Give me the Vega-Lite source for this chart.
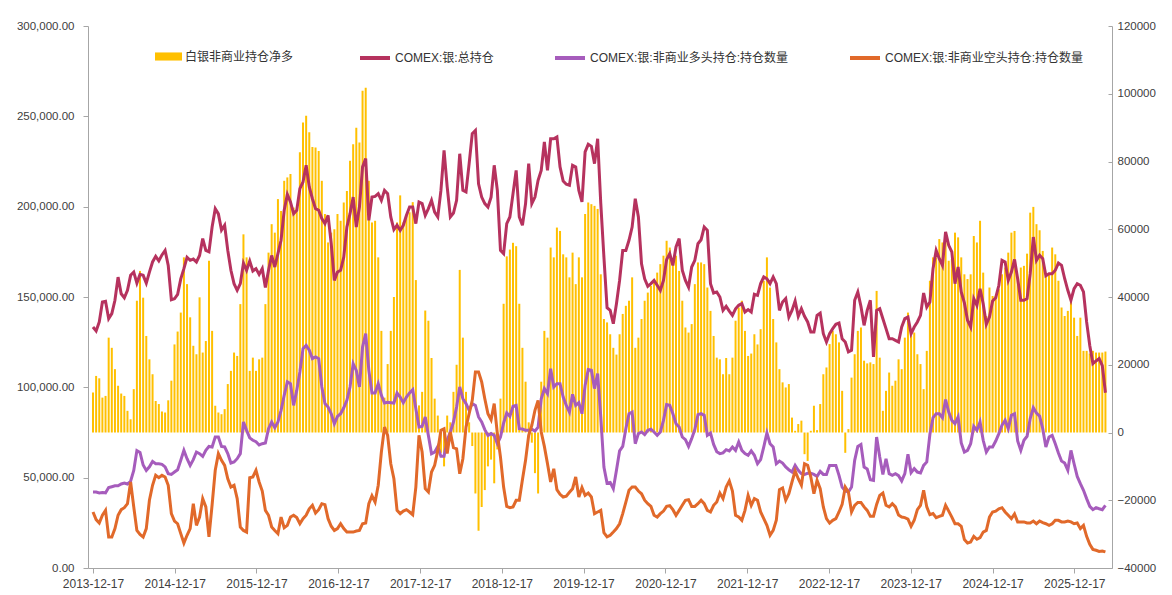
{
"$schema": "https://vega.github.io/schema/vega-lite/v6.json",
"width": 1024, "height": 542,
"autosize": {"type": "none"},
"padding": {"left": 88, "top": 26, "right": 60, "bottom": 27},
"background": "white",
"config": {"view": {"stroke": null}, "font": "Liberation Sans",
  "axis": {"domainColor": "#A6A6A6", "tickColor": "#A6A6A6", "labelColor": "#404040", "grid": false, "labelFont": "Liberation Sans", "title": null}},
"data": {"values": [
{"d":"2013-12-17","n":11800,"t":133400,"l":42000,"s":31000},
{"d":"2013-12-31","n":16700,"t":131200,"l":42000,"s":26800},
{"d":"2014-01-14","n":16000,"t":136200,"l":41500,"s":24900},
{"d":"2014-01-28","n":10300,"t":147200,"l":41800,"s":29200},
{"d":"2014-02-11","n":10800,"t":147600,"l":41600,"s":31900},
{"d":"2014-02-25","n":28000,"t":138000,"l":44500,"s":17200},
{"d":"2014-03-11","n":25000,"t":140800,"l":45000,"s":17200},
{"d":"2014-03-25","n":18700,"t":148200,"l":45500,"s":21800},
{"d":"2014-04-08","n":13800,"t":161000,"l":45500,"s":29200},
{"d":"2014-04-22","n":11500,"t":151800,"l":46500,"s":32300},
{"d":"2014-05-06","n":10800,"t":149600,"l":47000,"s":33400},
{"d":"2014-05-20","n":6400,"t":153700,"l":46500,"s":35600},
{"d":"2014-06-03","n":3900,"t":162000,"l":48000,"s":47600},
{"d":"2014-06-17","n":12800,"t":163800,"l":54000,"s":33800},
{"d":"2014-07-01","n":38900,"t":157700,"l":65000,"s":20800},
{"d":"2014-07-15","n":47700,"t":162500,"l":64000,"s":18600},
{"d":"2014-07-29","n":39800,"t":162000,"l":57000,"s":17200},
{"d":"2014-08-12","n":28500,"t":157700,"l":54000,"s":21800},
{"d":"2014-08-26","n":21600,"t":163800,"l":56000,"s":37500},
{"d":"2014-09-09","n":17200,"t":169400,"l":59000,"s":45800},
{"d":"2014-09-23","n":9300,"t":172500,"l":57700,"s":51300},
{"d":"2014-10-07","n":8400,"t":170000,"l":57700,"s":50000},
{"d":"2014-10-21","n":6200,"t":173300,"l":57400,"s":51300},
{"d":"2014-11-04","n":5900,"t":175800,"l":56000,"s":50400},
{"d":"2014-11-18","n":9500,"t":167500,"l":52200,"s":45800},
{"d":"2014-12-02","n":15300,"t":148500,"l":51800,"s":30100},
{"d":"2014-12-16","n":26000,"t":149000,"l":53100,"s":26000},
{"d":"2014-12-30","n":29800,"t":151500,"l":54400,"s":24500},
{"d":"2015-01-13","n":35400,"t":160000,"l":59600,"s":19000},
{"d":"2015-01-27","n":51700,"t":165700,"l":65100,"s":13800},
{"d":"2015-02-10","n":43800,"t":172000,"l":60500,"s":18100},
{"d":"2015-02-24","n":34000,"t":170300,"l":56800,"s":21800},
{"d":"2015-03-10","n":25600,"t":171000,"l":60000,"s":35600},
{"d":"2015-03-24","n":23100,"t":169400,"l":64200,"s":23600},
{"d":"2015-04-07","n":39900,"t":173000,"l":63300,"s":28200},
{"d":"2015-04-21","n":23600,"t":182300,"l":61800,"s":38400},
{"d":"2015-05-05","n":27000,"t":175800,"l":65100,"s":33800},
{"d":"2015-05-19","n":50700,"t":175000,"l":67300,"s":17200},
{"d":"2015-06-02","n":30000,"t":188700,"l":67000,"s":35000},
{"d":"2015-06-16","n":7900,"t":198900,"l":72500,"s":54100},
{"d":"2015-06-30","n":5900,"t":196000,"l":72500,"s":63300},
{"d":"2015-07-14","n":5400,"t":187000,"l":67300,"s":59600},
{"d":"2015-07-28","n":6900,"t":189700,"l":67000,"s":56800},
{"d":"2015-08-11","n":14300,"t":175800,"l":63300,"s":49400},
{"d":"2015-08-25","n":18200,"t":164800,"l":58100,"s":44800},
{"d":"2015-09-08","n":23600,"t":157400,"l":58700,"s":45800},
{"d":"2015-09-22","n":22600,"t":153700,"l":60500,"s":38400},
{"d":"2015-10-06","n":37900,"t":157400,"l":63300,"s":22700},
{"d":"2015-10-20","n":58500,"t":168800,"l":80800,"s":20800},
{"d":"2015-11-03","n":51700,"t":164800,"l":76200,"s":19900},
{"d":"2015-11-17","n":18200,"t":169900,"l":72000,"s":50000},
{"d":"2015-12-01","n":22100,"t":164400,"l":70700,"s":50400},
{"d":"2015-12-15","n":18200,"t":165700,"l":69900,"s":54100},
{"d":"2015-12-29","n":21600,"t":162500,"l":68100,"s":47600},
{"d":"2016-01-12","n":22100,"t":165700,"l":68800,"s":42600},
{"d":"2016-01-26","n":37900,"t":155200,"l":69200,"s":31900},
{"d":"2016-02-09","n":53100,"t":164800,"l":77100,"s":29200},
{"d":"2016-02-23","n":61500,"t":173000,"l":80800,"s":22700},
{"d":"2016-03-08","n":59000,"t":166600,"l":77700,"s":20800},
{"d":"2016-03-22","n":68900,"t":174000,"l":80800,"s":19000},
{"d":"2016-04-05","n":65400,"t":181400,"l":87300,"s":28200},
{"d":"2016-04-19","n":74300,"t":198000,"l":95600,"s":22300},
{"d":"2016-05-03","n":75300,"t":206800,"l":103000,"s":23600},
{"d":"2016-05-17","n":76300,"t":202600,"l":102000,"s":28200},
{"d":"2016-05-31","n":66400,"t":196100,"l":90000,"s":29200},
{"d":"2016-06-14","n":65400,"t":198000,"l":98300,"s":27900},
{"d":"2016-06-28","n":82700,"t":210000,"l":108500,"s":24500},
{"d":"2016-07-12","n":91500,"t":213700,"l":121400,"s":27300},
{"d":"2016-07-26","n":93500,"t":222900,"l":123200,"s":29200},
{"d":"2016-08-09","n":88600,"t":210900,"l":120500,"s":32800},
{"d":"2016-08-23","n":84300,"t":204400,"l":115900,"s":34700},
{"d":"2016-09-06","n":84100,"t":198900,"l":116800,"s":30400},
{"d":"2016-09-20","n":83100,"t":198000,"l":115900,"s":32300},
{"d":"2016-10-04","n":74300,"t":193400,"l":100200,"s":35600},
{"d":"2016-10-18","n":64500,"t":190600,"l":91000,"s":35100},
{"d":"2016-11-01","n":56100,"t":195200,"l":89100,"s":27300},
{"d":"2016-11-15","n":59000,"t":179500,"l":85400,"s":23100},
{"d":"2016-11-29","n":60000,"t":159200,"l":79900,"s":20800},
{"d":"2016-12-13","n":64500,"t":163800,"l":83900,"s":21800},
{"d":"2016-12-27","n":62500,"t":164800,"l":85400,"s":24500},
{"d":"2017-01-10","n":67900,"t":172100,"l":88700,"s":21800},
{"d":"2017-01-24","n":71300,"t":188700,"l":92800,"s":19900},
{"d":"2017-02-07","n":80200,"t":196100,"l":100200,"s":19900},
{"d":"2017-02-21","n":85100,"t":205300,"l":113100,"s":19900},
{"d":"2017-03-07","n":90000,"t":188700,"l":109400,"s":20500},
{"d":"2017-03-21","n":85600,"t":199800,"l":100200,"s":20800},
{"d":"2017-04-04","n":100900,"t":222000,"l":122300,"s":24500},
{"d":"2017-04-18","n":101800,"t":226600,"l":129700,"s":24900},
{"d":"2017-05-02","n":74300,"t":192400,"l":109400,"s":35600},
{"d":"2017-05-16","n":62000,"t":205300,"l":96900,"s":40000},
{"d":"2017-05-30","n":62500,"t":205700,"l":96900,"s":36500},
{"d":"2017-06-13","n":51700,"t":207200,"l":102000,"s":45800},
{"d":"2017-06-27","n":30000,"t":203500,"l":95600,"s":64200},
{"d":"2017-07-11","n":10300,"t":209000,"l":91300,"s":78000},
{"d":"2017-07-25","n":20200,"t":207200,"l":91700,"s":73400},
{"d":"2017-08-08","n":30000,"t":194300,"l":91500,"s":57700},
{"d":"2017-08-22","n":40000,"t":187300,"l":91300,"s":49400},
{"d":"2017-09-05","n":62000,"t":189700,"l":96900,"s":31900},
{"d":"2017-09-19","n":70000,"t":186900,"l":94600,"s":30100},
{"d":"2017-10-03","n":62000,"t":189700,"l":91500,"s":31500},
{"d":"2017-10-17","n":64000,"t":195200,"l":94600,"s":32300},
{"d":"2017-10-31","n":65000,"t":199800,"l":96900,"s":31000},
{"d":"2017-11-14","n":68000,"t":199800,"l":98700,"s":29500},
{"d":"2017-11-28","n":45000,"t":190600,"l":88200,"s":44800},
{"d":"2017-12-12","n":8000,"t":202600,"l":78100,"s":73400},
{"d":"2017-12-26","n":12000,"t":201700,"l":78400,"s":64200},
{"d":"2018-01-09","n":36000,"t":195200,"l":83600,"s":43900},
{"d":"2018-01-23","n":33000,"t":198900,"l":73400,"s":42100},
{"d":"2018-02-06","n":22000,"t":203500,"l":63300,"s":53100},
{"d":"2018-02-20","n":10000,"t":197000,"l":64200,"s":56800},
{"d":"2018-03-06","n":5000,"t":194300,"l":67300,"s":65100},
{"d":"2018-03-20","n":-6000,"t":209000,"l":61800,"s":76200},
{"d":"2018-04-03","n":-10000,"t":231200,"l":61800,"s":77100},
{"d":"2018-04-17","n":5000,"t":210900,"l":70700,"s":63300},
{"d":"2018-05-01","n":3000,"t":194300,"l":75300,"s":75300},
{"d":"2018-05-15","n":12000,"t":196500,"l":80800,"s":66600},
{"d":"2018-05-29","n":20000,"t":203500,"l":89100,"s":66000},
{"d":"2018-06-12","n":48000,"t":229300,"l":100200,"s":52200},
{"d":"2018-06-26","n":28000,"t":209000,"l":93700,"s":60500},
{"d":"2018-07-10","n":12000,"t":208100,"l":91000,"s":78000},
{"d":"2018-07-24","n":3000,"t":223800,"l":87300,"s":85400},
{"d":"2018-08-07","n":-4000,"t":240400,"l":91000,"s":92800},
{"d":"2018-08-21","n":-18000,"t":242200,"l":90000,"s":108500},
{"d":"2018-09-04","n":-29000,"t":212700,"l":83600,"s":108500},
{"d":"2018-09-18","n":-22000,"t":205300,"l":80800,"s":103000},
{"d":"2018-10-02","n":-17000,"t":201700,"l":76600,"s":93700},
{"d":"2018-10-16","n":-10000,"t":199800,"l":73400,"s":85400},
{"d":"2018-10-30","n":-8000,"t":205300,"l":74400,"s":82100},
{"d":"2018-11-13","n":-15000,"t":222900,"l":73400,"s":91000},
{"d":"2018-11-27","n":-5000,"t":209000,"l":68800,"s":74400},
{"d":"2018-12-11","n":10000,"t":175800,"l":72500,"s":61400},
{"d":"2018-12-25","n":38000,"t":174000,"l":80300,"s":44800},
{"d":"2019-01-08","n":52000,"t":190600,"l":85800,"s":34100},
{"d":"2019-01-22","n":54000,"t":194300,"l":83900,"s":33400},
{"d":"2019-02-05","n":56000,"t":207200,"l":89500,"s":33800},
{"d":"2019-02-19","n":55000,"t":220100,"l":90000,"s":37500},
{"d":"2019-03-05","n":38000,"t":194300,"l":77100,"s":37500},
{"d":"2019-03-19","n":25000,"t":189700,"l":76900,"s":48900},
{"d":"2019-04-02","n":15000,"t":201700,"l":76200,"s":59600},
{"d":"2019-04-16","n":3000,"t":223800,"l":76200,"s":73400},
{"d":"2019-04-30","n":-3000,"t":201700,"l":76800,"s":79000},
{"d":"2019-05-14","n":-12000,"t":205300,"l":75800,"s":87300},
{"d":"2019-05-28","n":-18000,"t":214600,"l":78000,"s":92800},
{"d":"2019-06-11","n":15000,"t":220100,"l":93700,"s":75300},
{"d":"2019-06-25","n":30000,"t":235800,"l":99300,"s":67300},
{"d":"2019-07-09","n":28000,"t":220100,"l":96500,"s":57700},
{"d":"2019-07-23","n":54600,"t":237600,"l":110300,"s":47600},
{"d":"2019-08-06","n":51700,"t":237600,"l":100200,"s":54900},
{"d":"2019-08-20","n":60500,"t":238600,"l":102000,"s":43400},
{"d":"2019-09-03","n":59500,"t":222000,"l":102000,"s":40800},
{"d":"2019-09-17","n":52600,"t":214200,"l":94600,"s":39300},
{"d":"2019-10-01","n":51700,"t":212400,"l":90000,"s":39700},
{"d":"2019-10-15","n":45800,"t":211800,"l":86300,"s":41900},
{"d":"2019-10-29","n":53100,"t":222900,"l":96100,"s":43900},
{"d":"2019-11-12","n":43800,"t":222000,"l":90000,"s":50400},
{"d":"2019-11-26","n":51700,"t":209000,"l":91500,"s":39300},
{"d":"2019-12-10","n":45800,"t":202600,"l":85400,"s":44500},
{"d":"2019-12-24","n":64500,"t":230300,"l":101100,"s":40200},
{"d":"2020-01-07","n":67900,"t":234500,"l":109800,"s":41500},
{"d":"2020-01-21","n":67400,"t":233400,"l":109400,"s":39300},
{"d":"2020-02-04","n":66900,"t":223800,"l":99300,"s":30100},
{"d":"2020-02-18","n":66000,"t":237600,"l":107600,"s":31000},
{"d":"2020-03-03","n":46700,"t":201700,"l":83600,"s":31900},
{"d":"2020-03-17","n":33500,"t":172100,"l":55900,"s":19600},
{"d":"2020-03-31","n":32500,"t":144100,"l":47000,"s":17200},
{"d":"2020-04-14","n":29000,"t":142600,"l":47400,"s":18100},
{"d":"2020-04-28","n":25000,"t":135200,"l":43900,"s":19900},
{"d":"2020-05-12","n":23000,"t":146300,"l":54100,"s":21800},
{"d":"2020-05-26","n":29000,"t":159200,"l":64800,"s":24500},
{"d":"2020-06-09","n":35000,"t":175800,"l":67300,"s":30100},
{"d":"2020-06-23","n":37400,"t":175800,"l":77100,"s":36500},
{"d":"2020-07-07","n":38900,"t":181400,"l":85400,"s":43000},
{"d":"2020-07-21","n":45800,"t":188700,"l":86300,"s":44800},
{"d":"2020-08-04","n":25000,"t":204400,"l":68800,"s":44800},
{"d":"2020-08-18","n":28000,"t":194300,"l":74400,"s":42600},
{"d":"2020-09-01","n":33500,"t":168400,"l":75300,"s":41100},
{"d":"2020-09-15","n":38900,"t":160100,"l":73800,"s":37500},
{"d":"2020-09-29","n":41300,"t":155900,"l":76200,"s":35600},
{"d":"2020-10-13","n":43300,"t":157400,"l":76800,"s":34100},
{"d":"2020-10-27","n":45000,"t":159200,"l":75300,"s":29200},
{"d":"2020-11-10","n":47200,"t":156500,"l":73400,"s":28200},
{"d":"2020-11-24","n":49700,"t":153700,"l":75300,"s":30100},
{"d":"2020-12-08","n":52200,"t":159200,"l":81700,"s":31500},
{"d":"2020-12-22","n":56600,"t":170700,"l":90400,"s":34100},
{"d":"2021-01-05","n":54600,"t":174000,"l":90000,"s":34500},
{"d":"2021-01-19","n":50200,"t":167500,"l":85400,"s":32300},
{"d":"2021-02-02","n":52200,"t":177700,"l":79900,"s":29200},
{"d":"2021-02-16","n":47700,"t":182300,"l":78000,"s":31900},
{"d":"2021-03-02","n":38900,"t":164800,"l":72500,"s":34700},
{"d":"2021-03-16","n":31000,"t":159200,"l":71000,"s":37500},
{"d":"2021-03-30","n":29500,"t":155500,"l":67300,"s":37800},
{"d":"2021-04-13","n":32000,"t":166600,"l":71600,"s":34100},
{"d":"2021-04-27","n":43800,"t":170300,"l":76600,"s":34100},
{"d":"2021-05-11","n":50200,"t":179500,"l":84900,"s":35600},
{"d":"2021-05-25","n":50200,"t":181700,"l":85400,"s":37500},
{"d":"2021-06-08","n":49700,"t":188700,"l":84500,"s":35600},
{"d":"2021-06-22","n":42800,"t":186900,"l":73400,"s":31900},
{"d":"2021-07-06","n":35900,"t":157400,"l":74700,"s":31000},
{"d":"2021-07-20","n":28500,"t":152200,"l":68400,"s":34700},
{"d":"2021-08-03","n":22100,"t":152800,"l":64400,"s":36500},
{"d":"2021-08-17","n":21600,"t":150000,"l":63300,"s":41500},
{"d":"2021-08-31","n":17200,"t":142600,"l":63700,"s":38400},
{"d":"2021-09-14","n":22000,"t":144800,"l":65500,"s":44800},
{"d":"2021-09-28","n":17200,"t":142200,"l":64800,"s":48200},
{"d":"2021-10-12","n":22100,"t":139800,"l":67000,"s":42600},
{"d":"2021-10-26","n":33000,"t":143500,"l":65100,"s":29200},
{"d":"2021-11-09","n":36900,"t":145400,"l":69700,"s":28200},
{"d":"2021-11-23","n":38900,"t":146300,"l":65100,"s":26400},
{"d":"2021-12-07","n":30000,"t":141700,"l":63300,"s":31900},
{"d":"2021-12-21","n":22600,"t":143000,"l":62400,"s":40200},
{"d":"2022-01-04","n":23300,"t":141700,"l":64800,"s":34700},
{"d":"2022-01-18","n":29000,"t":151500,"l":62400,"s":38400},
{"d":"2022-02-01","n":26000,"t":150900,"l":57700,"s":37500},
{"d":"2022-02-15","n":30500,"t":157400,"l":60000,"s":31000},
{"d":"2022-03-01","n":44800,"t":161100,"l":67000,"s":27300},
{"d":"2022-03-15","n":51700,"t":160100,"l":74700,"s":23600},
{"d":"2022-03-29","n":42800,"t":157400,"l":68800,"s":18100},
{"d":"2022-04-12","n":33500,"t":161100,"l":67000,"s":20800},
{"d":"2022-04-26","n":26600,"t":157400,"l":57700,"s":26400},
{"d":"2022-05-10","n":18700,"t":142600,"l":59200,"s":43400},
{"d":"2022-05-24","n":14800,"t":147200,"l":58100,"s":44300},
{"d":"2022-06-07","n":13300,"t":149100,"l":55900,"s":37500},
{"d":"2022-06-21","n":14300,"t":138900,"l":54400,"s":41100},
{"d":"2022-07-05","n":4400,"t":142600,"l":53100,"s":47600},
{"d":"2022-07-19","n":500,"t":147800,"l":56800,"s":53700},
{"d":"2022-08-02","n":2500,"t":139300,"l":54100,"s":49400},
{"d":"2022-08-16","n":3500,"t":143500,"l":52200,"s":45800},
{"d":"2022-08-30","n":-6400,"t":139300,"l":51800,"s":57700},
{"d":"2022-09-13","n":-8400,"t":136200,"l":52400,"s":56800},
{"d":"2022-09-27","n":500,"t":130600,"l":52400,"s":50400},
{"d":"2022-10-11","n":7900,"t":130600,"l":51800,"s":41100},
{"d":"2022-10-25","n":700,"t":139800,"l":50700,"s":48500},
{"d":"2022-11-08","n":8400,"t":141100,"l":53500,"s":43900},
{"d":"2022-11-22","n":17200,"t":129700,"l":51800,"s":33800},
{"d":"2022-12-06","n":19200,"t":125100,"l":51800,"s":27300},
{"d":"2022-12-20","n":26100,"t":129700,"l":56800,"s":24900},
{"d":"2023-01-03","n":30000,"t":132500,"l":56800,"s":26400},
{"d":"2023-01-17","n":29000,"t":134900,"l":56800,"s":27300},
{"d":"2023-01-31","n":26600,"t":135600,"l":51300,"s":31000},
{"d":"2023-02-14","n":12300,"t":126900,"l":44800,"s":35200},
{"d":"2023-02-28","n":-6000,"t":125100,"l":42600,"s":44800},
{"d":"2023-03-14","n":1000,"t":119600,"l":42100,"s":42100},
{"d":"2023-03-28","n":16200,"t":120500,"l":44800,"s":31000},
{"d":"2023-04-11","n":23100,"t":148200,"l":59600,"s":34700},
{"d":"2023-04-25","n":30000,"t":152800,"l":67300,"s":36300},
{"d":"2023-05-09","n":31000,"t":144800,"l":68400,"s":36300},
{"d":"2023-05-23","n":21200,"t":134300,"l":55900,"s":33800},
{"d":"2023-06-06","n":20400,"t":142600,"l":54800,"s":31900},
{"d":"2023-06-20","n":20700,"t":148200,"l":48900,"s":28600},
{"d":"2023-07-04","n":20200,"t":116800,"l":48500,"s":28600},
{"d":"2023-07-18","n":41800,"t":142600,"l":72500,"s":35200},
{"d":"2023-08-01","n":22100,"t":143500,"l":61400,"s":40200},
{"d":"2023-08-15","n":6400,"t":138000,"l":51800,"s":41500},
{"d":"2023-08-29","n":12300,"t":132500,"l":60500,"s":34700},
{"d":"2023-09-12","n":17700,"t":126900,"l":52200,"s":33800},
{"d":"2023-09-26","n":13800,"t":126900,"l":51300,"s":35600},
{"d":"2023-10-10","n":15300,"t":126000,"l":52200,"s":33800},
{"d":"2023-10-24","n":21600,"t":125100,"l":51100,"s":29300},
{"d":"2023-11-07","n":18700,"t":133400,"l":48200,"s":28200},
{"d":"2023-11-21","n":28000,"t":138000,"l":52200,"s":27900},
{"d":"2023-12-05","n":35400,"t":138900,"l":62900,"s":27100},
{"d":"2023-12-19","n":28500,"t":129700,"l":52800,"s":23100},
{"d":"2024-01-02","n":29500,"t":133400,"l":55000,"s":26400},
{"d":"2024-01-16","n":23100,"t":136200,"l":53100,"s":32300},
{"d":"2024-01-30","n":20200,"t":139800,"l":52600,"s":34700},
{"d":"2024-02-13","n":12800,"t":152200,"l":56800,"s":43000},
{"d":"2024-02-27","n":24100,"t":144400,"l":58700,"s":33800},
{"d":"2024-03-12","n":44800,"t":147200,"l":74000,"s":29500},
{"d":"2024-03-26","n":51700,"t":165700,"l":83200,"s":30100},
{"d":"2024-04-09","n":51700,"t":175800,"l":85400,"s":27900},
{"d":"2024-04-23","n":57100,"t":171200,"l":85400,"s":28600},
{"d":"2024-05-07","n":56100,"t":167500,"l":83200,"s":29200},
{"d":"2024-05-21","n":58500,"t":186000,"l":93200,"s":34700},
{"d":"2024-06-04","n":50700,"t":178600,"l":86300,"s":31500},
{"d":"2024-06-18","n":51200,"t":174900,"l":81700,"s":28200},
{"d":"2024-07-02","n":59000,"t":157400,"l":79900,"s":24500},
{"d":"2024-07-16","n":57600,"t":166600,"l":83600,"s":24500},
{"d":"2024-07-30","n":51700,"t":152800,"l":69200,"s":23100},
{"d":"2024-08-13","n":46700,"t":146700,"l":64200,"s":15700},
{"d":"2024-08-27","n":45300,"t":137100,"l":65100,"s":13800},
{"d":"2024-09-10","n":46700,"t":133400,"l":68800,"s":14400},
{"d":"2024-09-24","n":58000,"t":149100,"l":78400,"s":17500},
{"d":"2024-10-08","n":56100,"t":145400,"l":76200,"s":15900},
{"d":"2024-10-22","n":62500,"t":154600,"l":80800,"s":16800},
{"d":"2024-11-05","n":47200,"t":146300,"l":70700,"s":19900},
{"d":"2024-11-19","n":34400,"t":134900,"l":64200,"s":20800},
{"d":"2024-12-03","n":42800,"t":138900,"l":67000,"s":28200},
{"d":"2024-12-17","n":40300,"t":147800,"l":67000,"s":31000},
{"d":"2024-12-31","n":40300,"t":149600,"l":70300,"s":31500},
{"d":"2025-01-14","n":42300,"t":156500,"l":74400,"s":32800},
{"d":"2025-01-28","n":46700,"t":170300,"l":79000,"s":33400},
{"d":"2025-02-11","n":48700,"t":169400,"l":81700,"s":31000},
{"d":"2025-02-25","n":53100,"t":159200,"l":77100,"s":29200},
{"d":"2025-03-11","n":59000,"t":163800,"l":84500,"s":27300},
{"d":"2025-03-25","n":59500,"t":170800,"l":85400,"s":29900},
{"d":"2025-04-08","n":45800,"t":160100,"l":70300,"s":25500},
{"d":"2025-04-22","n":48700,"t":148200,"l":65100,"s":25500},
{"d":"2025-05-06","n":49200,"t":148200,"l":70700,"s":25500},
{"d":"2025-05-20","n":52800,"t":149100,"l":72900,"s":24900},
{"d":"2025-06-03","n":64900,"t":162900,"l":82700,"s":24900},
{"d":"2025-06-17","n":66600,"t":183200,"l":88700,"s":26000},
{"d":"2025-07-01","n":61500,"t":170300,"l":85800,"s":24500},
{"d":"2025-07-15","n":59700,"t":173100,"l":84100,"s":26000},
{"d":"2025-07-29","n":53600,"t":171200,"l":77100,"s":25100},
{"d":"2025-08-12","n":46000,"t":161800,"l":67000,"s":24500},
{"d":"2025-08-26","n":46700,"t":162900,"l":72500,"s":23600},
{"d":"2025-09-09","n":54600,"t":162900,"l":73400,"s":24500},
{"d":"2025-09-23","n":52600,"t":164800,"l":68800,"s":26400},
{"d":"2025-10-07","n":44800,"t":168800,"l":63700,"s":26400},
{"d":"2025-10-21","n":36900,"t":167500,"l":59200,"s":25500},
{"d":"2025-11-04","n":34400,"t":160100,"l":58100,"s":25500},
{"d":"2025-11-18","n":35900,"t":153700,"l":54100,"s":26000},
{"d":"2025-12-02","n":39900,"t":148200,"l":65100,"s":25500},
{"d":"2025-12-16","n":33900,"t":154600,"l":57700,"s":24500},
{"d":"2025-12-30","n":28500,"t":157400,"l":50700,"s":24900},
{"d":"2026-01-13","n":33900,"t":156500,"l":46700,"s":21800},
{"d":"2026-01-27","n":24100,"t":152800,"l":43000,"s":23600},
{"d":"2026-02-10","n":24100,"t":136200,"l":38400,"s":17500},
{"d":"2026-02-24","n":23300,"t":123200,"l":34100,"s":13100},
{"d":"2026-03-10","n":24100,"t":113100,"l":32300,"s":10300},
{"d":"2026-03-24","n":23600,"t":114600,"l":33400,"s":9800},
{"d":"2026-04-07","n":23600,"t":115900,"l":32800,"s":9200},
{"d":"2026-04-21","n":23600,"t":112000,"l":32300,"s":9400},
{"d":"2026-05-05","n":23900,"t":97000,"l":34700,"s":8900}
]},
"encoding": {
  "x": {"field": "d", "type": "temporal",
    "scale": {"type": "utc", "domain": [{"year": 2013, "month": 12, "date": 17, "utc": true}, {"year": 2026, "month": 5, "date": 12, "utc": true}]},
    "axis": {"values": [
      {"year": 2013, "month": 12, "date": 17, "utc": true}, {"year": 2014, "month": 12, "date": 17, "utc": true},
      {"year": 2015, "month": 12, "date": 17, "utc": true}, {"year": 2016, "month": 12, "date": 17, "utc": true},
      {"year": 2017, "month": 12, "date": 17, "utc": true}, {"year": 2018, "month": 12, "date": 17, "utc": true},
      {"year": 2019, "month": 12, "date": 17, "utc": true}, {"year": 2020, "month": 12, "date": 17, "utc": true},
      {"year": 2021, "month": 12, "date": 17, "utc": true}, {"year": 2022, "month": 12, "date": 17, "utc": true},
      {"year": 2023, "month": 12, "date": 17, "utc": true}, {"year": 2024, "month": 12, "date": 17, "utc": true},
      {"year": 2025, "month": 12, "date": 17, "utc": true}],
      "format": "%Y-%m-%d", "labelFontSize": 12, "tickSize": 5, "labelPadding": 5, "labelAngle": 0, "labelFlush": false, "labelOverlap": false}}
},
"layer": [
  {"mark": {"type": "bar", "size": 2},
   "encoding": {
     "y": {"field": "n", "type": "quantitative",
       "scale": {"domain": [-40000, 120000], "nice": false},
       "axis": {"orient": "right", "values": [-40000, -20000, 0, 20000, 40000, 60000, 80000, 100000, 120000], "format": "d", "labelFontSize": 11.5, "tickSize": -4, "labelPadding": 9}},
     "fill": {"datum": "白银非商业持仓净多",
       "scale": {"domain": ["白银非商业持仓净多"], "range": ["#FFC000"]},
       "legend": {"orient": "none", "legendX": 67, "legendY": 17, "title": null, "padding": 0,
         "symbolType": "M-1,-0.3H1V0.3H-1Z", "symbolSize": 729, "symbolStrokeWidth": 0,
         "labelFont": "Liberation Sans, Noto Sans CJK SC", "labelFontSize": 12, "labelColor": "#333333", "labelOffset": 3, "labelLimit": 400}}
   }},
  {"layer": [
    {"mark": {"type": "line", "strokeWidth": 3},
     "encoding": {
       "y": {"field": "t", "type": "quantitative", "scale": {"domain": [0, 300000], "nice": false},
         "axis": {"orient": "left", "values": [0, 50000, 100000, 150000, 200000, 250000, 300000], "format": ",.2f", "labelFontSize": 11.5, "tickSize": 5, "labelPadding": 9}},
       "stroke": {"datum": "COMEX:银:总持仓",
         "scale": {"domain": ["COMEX:银:总持仓", "COMEX:银:非商业多头持仓:持仓数量", "COMEX:银:非商业空头持仓:持仓数量"], "range": ["#B6325E", "#A65CBC", "#E1692A"]},
         "legend": {"orient": "none", "direction": "horizontal", "legendX": 270, "legendY": 15, "title": null, "padding": 0,
           "symbolType": "stroke", "symbolSize": 900, "symbolStrokeWidth": 4, "columnPadding": 53,
           "labelFont": "Liberation Sans, Noto Sans CJK SC", "labelFontSize": 12, "labelColor": "#333333", "labelOffset": 3, "labelLimit": 400}}
     }},
    {"mark": {"type": "line", "strokeWidth": 3},
     "encoding": {
       "y": {"field": "l", "type": "quantitative"},
       "stroke": {"datum": "COMEX:银:非商业多头持仓:持仓数量"}
     }},
    {"mark": {"type": "line", "strokeWidth": 3},
     "encoding": {
       "y": {"field": "s", "type": "quantitative"},
       "stroke": {"datum": "COMEX:银:非商业空头持仓:持仓数量"}
     }}
  ]}
],
"resolve": {"scale": {"y": "independent"}}
}
